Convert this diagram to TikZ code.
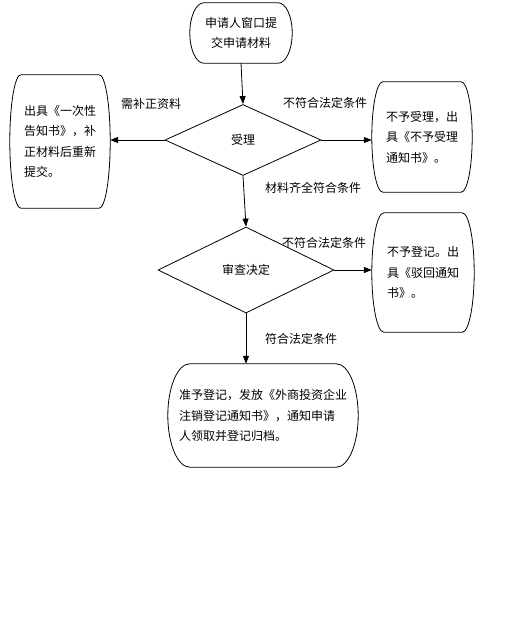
\documentclass[tikz,border=0pt]{standalone}
\usepackage{fontspec}
\newfontfamily\cjk{Noto Sans CJK SC}
\usetikzlibrary{arrows.meta,shapes.geometric,calc}
\newcommand\drawcap[2]{\draw[outl] let \p1=(#1.north west), \p2=(#1.south east), \n1={(\y1-\y2)/2} in
  (\x1+#2pt,\y1) -- (\x2-#2pt,\y1) arc[start angle=90,end angle=-90,x radius=#2pt,y radius=\n1]
  -- (\x1+#2pt,\y2) arc[start angle=270,end angle=90,x radius=#2pt,y radius=\n1] -- cycle;}
\begin{document}
\begin{tikzpicture}[x=1pt,y=1pt,
  txt/.style={font=\cjk\fontsize{12pt}{20.5pt}\selectfont, inner sep=0pt},
  box/.style={txt, align=left},
  outl/.style={draw=black, line width=0.8pt},
  dia/.style={txt, shape=diamond, aspect=2, draw=black, line width=0.8pt},
  arr/.style={draw=black, line width=0.8pt, -{Triangle[length=8pt,width=6pt]}}]
\useasboundingbox (0,0) rectangle (519,-629);
\node[box, align=center, minimum width=102pt, minimum height=60pt] (top) at (241,-33) {申请人窗口提\\交申请材料};
\node[dia, minimum width=156pt, minimum height=71pt] (d1) at (243,-140) {受理};
\node[box, minimum width=100pt, minimum height=133pt] (lb) at (60,-141.5) {出具《一次性\\告知书》，补\\正材料后重新\\提交。};
\node[box, minimum width=100pt, minimum height=110pt] (r1) at (422,-137) {不予受理，出\\具《不予受理\\通知书》。};
\node[dia, minimum width=176pt, minimum height=86pt] (d2) at (246,-270) {审查决定};
\node[box, minimum width=102pt, minimum height=119pt] (r2) at (423,-272.5) {不予登记。出\\具《驳回通知\\书》。};
\node[box, minimum width=190pt, minimum height=103pt] (bb) at (263,-415.5) {准予登记，发放《外商投资企业\\注销登记通知书》，通知申请\\人领取并登记归档。};
\drawcap{top}{14}
\drawcap{lb}{11}
\drawcap{r1}{11}
\drawcap{r2}{12}
\drawcap{bb}{22}
\draw[arr] (top.south) -- (d1.north);
\draw[arr] (d1.south) -- (d2.north);
\draw[arr] (d2.south) -- (d2.south |- bb.north);
\draw[arr] (d1.west) -- (d1.west -| lb.east);
\draw[arr] (d1.east) -- (d1.east -| r1.west);
\draw[arr] (d2.east) -- (d2.east -| r2.west);
\node[txt] (l1) at (151,-104) {需补正资料};
\node[txt] (l2) at (325,-103) {不符合法定条件};
\node[txt] (l3) at (313,-188) {材料齐全符合条件};
\node[txt] (l4) at (324,-243) {不符合法定条件};
\node[txt] (l5) at (301,-339) {符合法定条件};
\end{tikzpicture}
\end{document}
